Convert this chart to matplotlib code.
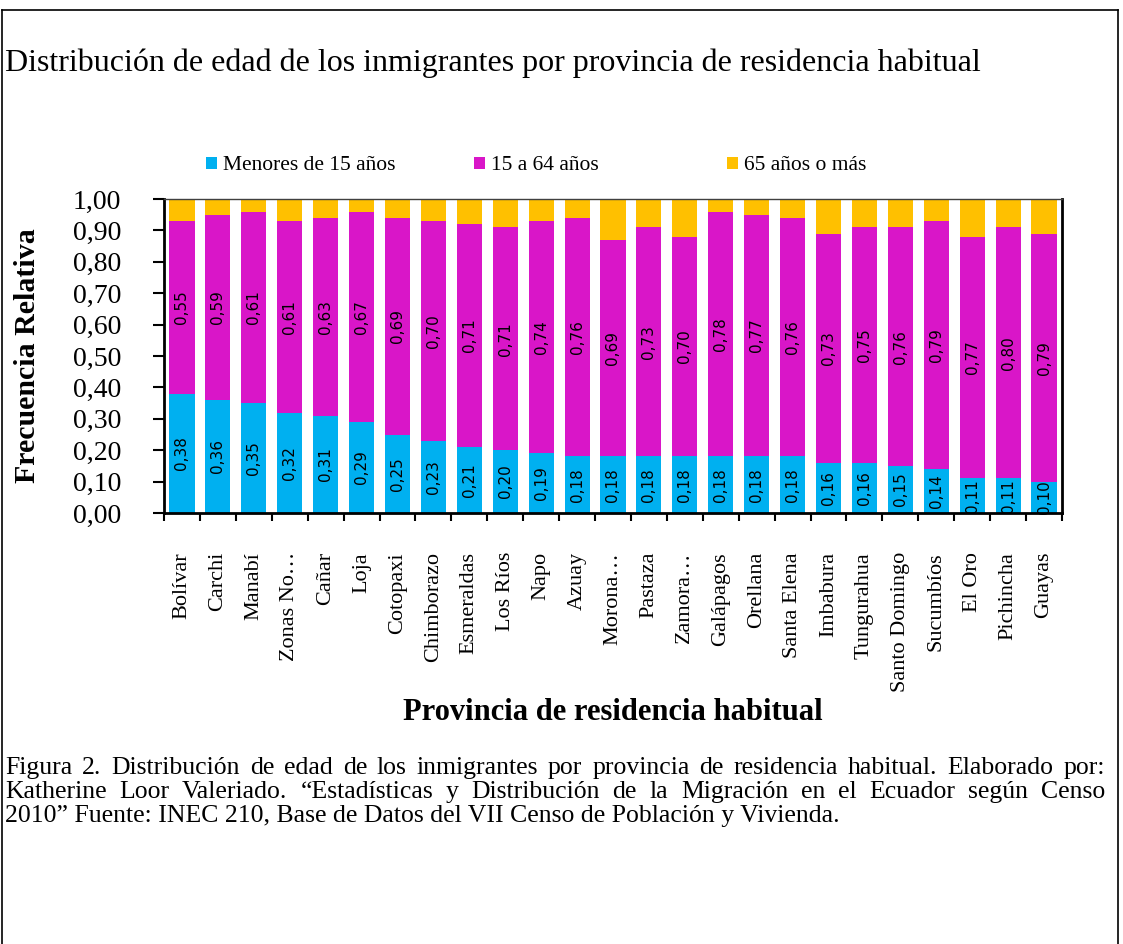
import matplotlib
matplotlib.use("Agg")
import matplotlib.pyplot as plt
from matplotlib.lines import Line2D
from matplotlib.ticker import FuncFormatter, FixedLocator
import numpy as np

plt.rcParams['font.family'] = ['Liberation Serif', 'DejaVu Serif']

# Datos: frecuencia relativa por grupo de edad y provincia
provincias = ['Bolívar', 'Carchi', 'Manabí', 'Zonas No…', 'Cañar', 'Loja', 'Cotopaxi',
              'Chimborazo', 'Esmeraldas', 'Los Ríos', 'Napo', 'Azuay', 'Morona…',
              'Pastaza', 'Zamora…', 'Galápagos', 'Orellana', 'Santa Elena', 'Imbabura',
              'Tungurahua', 'Santo Domingo', 'Sucumbíos', 'El Oro', 'Pichincha', 'Guayas']
menores_15 = [0.38, 0.36, 0.35, 0.32, 0.31, 0.29, 0.25, 0.23, 0.21, 0.20, 0.19, 0.18, 0.18,
              0.18, 0.18, 0.18, 0.18, 0.18, 0.16, 0.16, 0.15, 0.14, 0.11, 0.11, 0.10]
de_15_a_64 = [0.55, 0.59, 0.61, 0.61, 0.63, 0.67, 0.69, 0.70, 0.71, 0.71, 0.74, 0.76, 0.69,
              0.73, 0.70, 0.78, 0.77, 0.76, 0.73, 0.75, 0.76, 0.79, 0.77, 0.80, 0.79]
mayores_65 = [0.07, 0.05, 0.04, 0.07, 0.06, 0.04, 0.06, 0.07, 0.08, 0.09, 0.07, 0.06, 0.13,
              0.09, 0.12, 0.04, 0.05, 0.06, 0.11, 0.09, 0.09, 0.07, 0.12, 0.09, 0.11]

series = [('Menores de 15 años', menores_15, '#00B0F0'),
          ('15 a 64 años', de_15_a_64, '#D916C8'),
          ('65 años o más', mayores_65, '#FFC000')]

W, H = 1123, 944
fig = plt.figure(figsize=(W / 100, H / 100), dpi=100)
ax = fig.add_axes([164 / W, 1 - 513 / H, (1062 - 164) / W, (513 - 199) / H])

x = np.arange(len(provincias))
base = np.zeros(len(provincias))
barras = []
for i, (nombre, valores, color) in enumerate(series):
    valores = np.array(valores)
    barras.append(ax.bar(x, valores, 0.7, bottom=base, color=color, label=nombre))
    # etiquetas de valor solo en los dos primeros grupos
    if i < 2:
        for xi, b, v in zip(x, base, valores):
            ax.text(xi, b + v / 2, f'{v:.2f}'.replace('.', ','), rotation=90,
                    ha='center', va='center', fontsize=11, family='DejaVu Sans',
                    color='black')
    base = base + valores

ax.set_xlim(-0.5, len(provincias) - 0.5)
ax.set_ylim(0, 1)
ax.set_yticks(np.arange(0, 1.01, 0.1))
ax.yaxis.set_major_formatter(FuncFormatter(lambda v, p: f'{v:.2f}'.replace('.', ',')))
ax.tick_params(axis='y', direction='out', length=8, width=1.5, labelsize=20, pad=23)

ax.set_xticks(x)
ax.set_xticklabels(provincias, rotation=90, fontsize=16)
ax.xaxis.set_minor_locator(FixedLocator(np.arange(-0.5, len(provincias), 1)))
ax.tick_params(axis='x', which='major', length=0, pad=28)
ax.tick_params(axis='x', which='minor', direction='out', length=6, width=1.5)

for lado in ['left', 'bottom', 'right']:
    ax.spines[lado].set_linewidth(2)
ax.spines['top'].set_linewidth(1)
ax.spines['top'].set_color('#404040')

ax.set_ylabel('Frecuencia Relativa', fontsize=21.5, fontweight='bold')
ax.yaxis.set_label_coords(-0.137, 0.5)
ax.set_xlabel('Provincia de residencia habitual', fontsize=22, fontweight='bold', labelpad=4)

# Leyenda: una entrada por serie, repartidas sobre el grafico
leyenda_x = [206, 474, 727]
for b, (nombre, _, _), lx in zip(barras, series, leyenda_x):
    fig.legend(handles=[b], labels=[nombre], loc='center left',
               bbox_to_anchor=(lx / W, 1 - 166 / H), frameon=False, fontsize=15.5,
               handlelength=0.5, handleheight=0.5, handletextpad=0.3,
               borderpad=0, borderaxespad=0)

# Titulo superior
fig.text(5 / W, 1 - 63 / H, 'Distribución de edad de los inmigrantes por provincia de residencia habitual',
         fontsize=23, ha='left', va='center')

# Pie de figura justificado
pie = ['Figura 2. Distribución de edad de los inmigrantes por provincia de residencia habitual. Elaborado por:',
       'Katherine Loor Valeriado. “Estadísticas y Distribución de la Migración en el Ecuador según Censo',
       '2010” Fuente: INEC 210, Base de Datos del VII Censo de Población y Vivienda.']
renderer = fig.canvas.get_renderer()
x0, x1 = 5 / W, 1105 / W
y_lineas = [768, 792, 816]
tam_pie = 18.5
for k, linea in enumerate(pie):
    y = 1 - y_lineas[k] / H
    if k == len(pie) - 1:
        fig.text(x0, y, linea, fontsize=tam_pie, ha='left', va='center')
        continue
    palabras = linea.split(' ')
    textos = [fig.text(0, y, p, fontsize=tam_pie, ha='left', va='center') for p in palabras]
    anchos = [t.get_window_extent(renderer).width / fig.bbox.width for t in textos]
    hueco = (x1 - x0 - sum(anchos)) / (len(palabras) - 1)
    pos = x0
    for t, w in zip(textos, anchos):
        t.set_x(pos)
        pos += w + hueco

# Marco alrededor de la figura
marco = dict(color='black', linewidth=1.2, transform=fig.transFigure)
fig.add_artist(Line2D([0.0015, 0.0015], [0, 1 - 10 / H], **marco))
fig.add_artist(Line2D([0.0015, 1118 / W], [1 - 10 / H, 1 - 10 / H], **marco))
fig.add_artist(Line2D([1118 / W, 1118 / W], [0, 1 - 10 / H], **marco))

fig.savefig('out.png', dpi=100)
